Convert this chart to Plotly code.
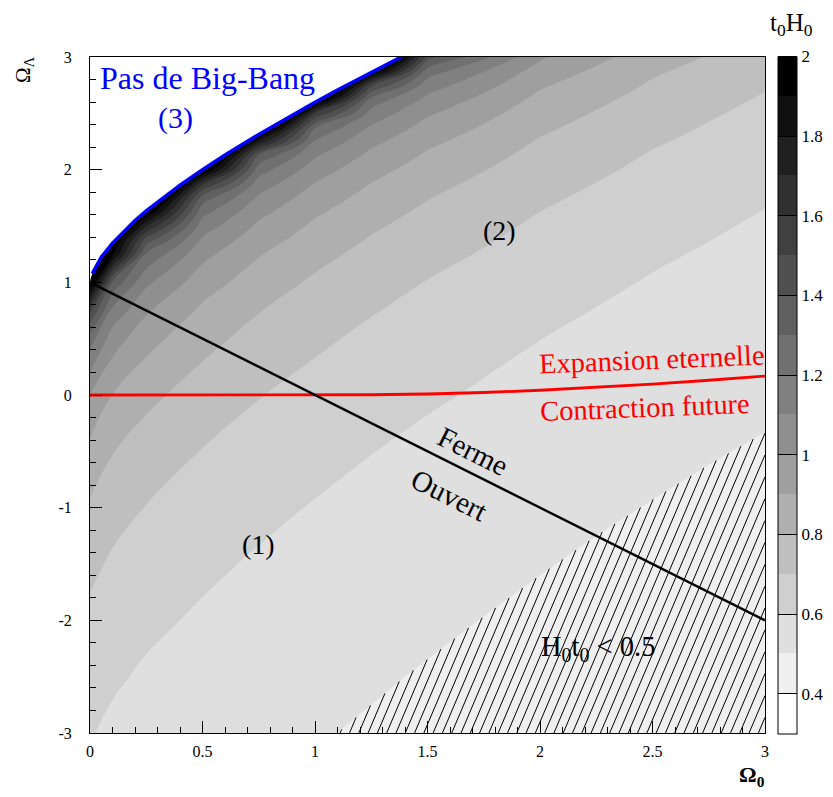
import plotly.graph_objects as go

# ---------------- data ----------------
# grid of Omega_0 (x) and Omega_Lambda (y) where t0*H0 was read
omega_m = [0.0, 0.1, 0.25, 0.5, 0.75, 1.0, 1.25, 1.5, 2.0, 2.5, 3.0]
omega_l = [-3.0, -2.5, -2.0, -1.5, -1.0, -0.5, 0.0, 0.5, 0.75, 1.0,
           1.25, 1.375, 1.5, 1.625, 1.75, 1.875, 2.0, 2.125, 2.25, 2.375,
           2.5, 2.625, 2.75, 2.875, 3.0]

# t0H0 columns (one list per Omega_0 value, bottom -> top);
# values past the blue boundary lie under the white "no Big-Bang" area
t_om000 = [0.605, 0.637, 0.676, 0.724, 0.785, 0.870, 1.000, 1.247, 1.521,
           2.05, 2.17, 2.3, 2.3, 2.3, 2.3, 2.3, 2.3, 2.3, 2.3, 2.3,
           2.3, 2.3, 2.3, 2.3, 2.3]
t_om010 = [0.583, 0.612, 0.645, 0.685, 0.737, 0.804, 0.898, 1.049, 1.172,
           1.379, 1.923, 2.05, 2.32, 2.4, 2.4, 2.4, 2.4, 2.4, 2.4, 2.4,
           2.4, 2.4, 2.4, 2.4, 2.4]
t_om025 = [0.563, 0.588, 0.618, 0.654, 0.697, 0.752, 0.826, 0.935, 1.013,
           1.121, 1.288, 1.45, 1.71, 2.02, 2.31, 2.72, 2.72, 2.72, 2.72, 2.72,
           2.72, 2.72, 2.72, 2.72, 2.72]
t_om050 = [0.541, 0.563, 0.588, 0.617, 0.653, 0.697, 0.754, 0.831, 0.882,
           0.945, 1.029, 1.083, 1.149, 1.234, 1.354, 1.62, 2.05, 2.41, 2.93,
           2.93, 2.93, 2.93, 2.93, 2.93, 2.93]
t_om075 = [0.522, 0.542, 0.564, 0.590, 0.620, 0.657, 0.704, 0.765, 0.804,
           0.850, 0.907, 0.942, 0.982, 1.028, 1.084, 1.154, 1.247, 1.387,
           1.78, 2.23, 2.79, 2.79, 2.79, 2.79, 2.79]
t_om100 = [0.507, 0.524, 0.544, 0.567, 0.595, 0.627, 0.667, 0.717, 0.748,
           0.785, 0.829, 0.854, 0.883, 0.915, 0.952, 0.996, 1.048, 1.111,
           1.193, 1.305, 1.6, 2.12, 2.67, 2.67, 2.67]
t_om125 = [0.494, 0.510, 0.528, 0.549, 0.573, 0.602, 0.636, 0.680, 0.706,
           0.736, 0.771, 0.792, 0.814, 0.839, 0.867, 0.898, 0.934, 0.976,
           1.026, 1.087, 1.164, 1.267, 1.52, 2.05, 2.64]
t_om150 = [0.482, 0.497, 0.514, 0.533, 0.555, 0.580, 0.611, 0.649, 0.672,
           0.697, 0.727, 0.744, 0.762, 0.782, 0.804, 0.828, 0.856, 0.887,
           0.922, 0.964, 1.014, 1.074, 1.151, 1.253, 1.45]
t_om200 = [0.462, 0.475, 0.489, 0.506, 0.524, 0.546, 0.571, 0.601, 0.618,
           0.638, 0.660, 0.672, 0.685, 0.700, 0.715, 0.731, 0.750, 0.770,
           0.792, 0.817, 0.844, 0.876, 0.913, 0.957, 1.010]
t_om250 = [0.445, 0.457, 0.470, 0.484, 0.4998, 0.518, 0.539, 0.564, 0.578,
           0.594, 0.611, 0.621, 0.631, 0.642, 0.653, 0.666, 0.679, 0.693,
           0.709, 0.726, 0.744, 0.765, 0.788, 0.814, 0.844]
t_om300 = [0.431, 0.441, 0.453, 0.465, 0.479, 0.495, 0.513, 0.534, 0.546,
           0.559, 0.574, 0.581, 0.589, 0.598, 0.607, 0.617, 0.627, 0.638,
           0.650, 0.662, 0.676, 0.691, 0.707, 0.725, 0.745]

# "Pas de Big-Bang" boundary (blue)
blue_x = [0.0, 0.003, 0.01, 0.02, 0.05, 0.1, 0.15, 0.2, 0.25, 0.3, 0.35, 0.4,
          0.5, 0.6, 0.75, 0.9, 1.0, 1.1, 1.2, 1.3, 1.4]
blue_y = [1.0, 1.037, 1.077, 1.111, 1.223, 1.348, 1.454, 1.549, 1.634, 1.710,
          1.789, 1.862, 2.0, 2.130, 2.313, 2.487, 2.598, 2.707, 2.813, 2.916,
          3.018]

# expansion / contraction boundary (red)
red_x = [0.0, 1.0, 1.25, 1.5, 1.75, 2.0, 2.25, 2.5, 2.75, 3.0]
red_y = [0.0, 0.0, 0.002, 0.009, 0.022, 0.042, 0.067, 0.096, 0.131, 0.168]

# closed / open boundary (black)
flat_x = [0.0, 3.0]
flat_y = [1.0, -2.0]

# edge of the hatched region H0t0 < 0.5
hatch_x = [1.10, 1.40, 1.70, 2.00, 2.25, 2.50, 2.75, 3.00]
hatch_y = [-3.00, -2.50, -2.04, -1.60, -1.25, -0.93, -0.62, -0.33]

x_tickvals = [0, 0.5, 1, 1.5, 2, 2.5, 3]
x_ticktext = ["0", "0.5", "1", "1.5", "2", "2.5", "3"]
y_tickvals = [-3, -2, -1, 0, 1, 2, 3]
y_ticktext = ["-3", "-2", "-1", "0", "1", "2", "3"]
cb_tickvals = [0.4, 0.6, 0.8, 1.0, 1.2, 1.4, 1.6, 1.8, 2.0]
cb_ticktext = ["0.4", "0.6", "0.8", "1", "1.2", "1.4", "1.6", "1.8", "2"]

# ---------------- figure ----------------
FONT = "Liberation Serif"
columns = [t_om000, t_om010, t_om025, t_om050, t_om075, t_om100, t_om125,
           t_om150, t_om200, t_om250, t_om300]
z = [list(row) for row in zip(*columns)]

# the page has an 8 px body margin: the figure is made 8 px smaller
PAGE = 8
W, H = 833 - PAGE, 797 - PAGE
L0, T0 = 90 - PAGE, 57 - PAGE          # plot area origin inside figure
PW, PH = 675, 676                      # plot area size

fig = go.Figure()

fig.add_trace(go.Contour(
    x=omega_m, y=omega_l, z=z,
    autocontour=False,
    contours=dict(start=0.4, end=1.9, size=0.1, coloring="fill",
                  showlines=False),
    line=dict(width=0, smoothing=1.3),
    colorscale=[[0, "#ffffff"], [1, "#000000"]],
    zauto=False, zmin=0.3, zmax=2.0,
    hoverinfo="skip",
    colorbar=dict(
        x=(778 - 90) / PW, xanchor="left", xpad=0, ypad=0,
        y=0.5, yanchor="middle",
        thickness=19, thicknessmode="pixels",
        len=677, lenmode="pixels",
        outlinecolor="black", outlinewidth=1,
        tickmode="array", tickvals=cb_tickvals, ticktext=cb_ticktext,
        ticks="inside", ticklen=19, tickcolor="black", tickwidth=1,
        tickfont=dict(family=FONT, size=17, color="black"),
    ),
))

# hatched region (H0 t0 < 0.5)
fig.add_trace(go.Scatter(
    x=hatch_x + [3.0, hatch_x[0]], y=hatch_y + [-3.0, hatch_y[0]],
    mode="lines", fill="toself", fillcolor="#efefef",
    line=dict(width=0), hoverinfo="skip", showlegend=False))

slope = 4.70      # steep hatch lines (about 67 degrees on screen)
spacing = 0.0413  # distance between hatch lines along the bottom axis
hx, hy = [], []
x0 = hatch_x[0] + 0.012
while x0 < 3.0:
    x_end, y_end = 3.0, -3.0 + slope * (3.0 - x0)
    for i in range(len(hatch_x) - 1):
        xa, ya, xb, yb = hatch_x[i], hatch_y[i], hatch_x[i + 1], hatch_y[i + 1]
        s = (yb - ya) / (xb - xa)
        xi = (ya - s * xa + 3.0 + slope * x0) / (slope - s)
        if xa - 1e-9 <= xi <= xb + 1e-9 and x0 < xi < x_end:
            x_end, y_end = xi, -3.0 + slope * (xi - x0)
    hx += [x0, x_end, None]
    hy += [-3.0, y_end, None]
    x0 += spacing
fig.add_trace(go.Scatter(x=hx, y=hy, mode="lines",
                         line=dict(color="black", width=1),
                         hoverinfo="skip", showlegend=False))

# no Big-Bang area (white)
fig.add_trace(go.Scatter(
    x=blue_x + [0.0, 0.0], y=blue_y + [blue_y[-1], blue_y[0]],
    mode="lines", fill="toself", fillcolor="white",
    line=dict(width=0), hoverinfo="skip", showlegend=False))

fig.add_trace(go.Scatter(x=blue_x[2:], y=blue_y[2:], mode="lines",
                         line=dict(color="#0000ff", width=3.5),
                         hoverinfo="skip", showlegend=False))
fig.add_trace(go.Scatter(x=red_x, y=red_y, mode="lines",
                         line=dict(color="#ff0000", width=2.8),
                         hoverinfo="skip", showlegend=False))
fig.add_trace(go.Scatter(x=flat_x, y=flat_y, mode="lines",
                         line=dict(color="black", width=2.4),
                         hoverinfo="skip", showlegend=False))

axis_common = dict(
    showgrid=False, zeroline=False, showline=True, linecolor="black",
    linewidth=1, mirror=True, ticks="inside", ticklen=12, tickwidth=1,
    tickcolor="black", tickmode="array", automargin=False,
    tickfont=dict(family=FONT, size=16, color="black"),
)
fig.update_xaxes(range=[0, 3], tickvals=x_tickvals, ticktext=x_ticktext,
                 minor=dict(ticks="inside", ticklen=6, tickwidth=1,
                            tickcolor="black", tick0=0, dtick=0.1),
                 ticklabelstandoff=4, **axis_common)
fig.update_yaxes(range=[-3, 3], tickvals=y_tickvals, ticktext=y_ticktext,
                 minor=dict(ticks="inside", ticklen=6, tickwidth=1,
                            tickcolor="black", tick0=-3, dtick=0.2),
                 ticklabelstandoff=14, **axis_common)

ann = [
    dict(x=0.524, y=2.813, text="Pas de Big-Bang", color="#0000ff", size=32, angle=0),
    dict(x=0.378, y=2.458, text="(3)", color="#0000ff", size=30, angle=0),
    dict(x=1.822, y=1.464, text="(2)", color="black", size=28, angle=0),
    dict(x=0.747, y=-1.331, text="(1)", color="black", size=28, angle=0),
    dict(x=2.498, y=0.311, text="Expansion eternelle", color="#ff0000", size=28.5, angle=-2.3),
    dict(x=2.467, y=-0.115, text="Contraction future", color="#ff0000", size=28.5, angle=-2.2),
    dict(x=1.702, y=-0.497, text="Ferme", color="black", size=29, angle=26.6),
    dict(x=1.596, y=-0.888, text="Ouvert", color="black", size=29, angle=26.6),
    dict(x=2.258, y=-2.246, text="H<sub>0</sub>t<sub>0</sub> &lt; 0.5", color="black", size=28.5, angle=0),
]
for a in ann:
    fig.add_annotation(x=a["x"], y=a["y"], xref="x", yref="y", text=a["text"],
                       showarrow=False, textangle=a["angle"],
                       xanchor="center", yanchor="middle",
                       font=dict(family=FONT, size=a["size"], color=a["color"]))

fig.add_annotation(x=(24 - 90) / PW, y=(733 - 70) / PH, xref="paper", yref="paper",
                   text="Ω<sub>Λ</sub>", showarrow=False, textangle=-90,
                   xanchor="center", yanchor="middle",
                   font=dict(family=FONT, size=21, color="black"))
fig.add_annotation(x=(752 - 90) / PW, y=(733 - 776) / PH, xref="paper", yref="paper",
                   text="<b>Ω<sub>0</sub></b>", showarrow=False,
                   xanchor="center", yanchor="middle",
                   font=dict(family=FONT, size=22, color="black"))
fig.add_annotation(x=(791 - 90) / PW, y=(733 - PAGE) / PH, xref="paper", yref="paper",
                   text="t<sub>0</sub>H<sub>0</sub>", showarrow=False,
                   xanchor="center", yanchor="top", borderpad=0,
                   font=dict(family=FONT, size=25, color="black"))

fig.update_layout(width=W, height=H,
                  margin=dict(l=L0, r=W - L0 - PW, t=T0, b=H - T0 - PH,
                              autoexpand=False),
                  plot_bgcolor="white", paper_bgcolor="white",
                  showlegend=False)

fig.write_html("out.html")
